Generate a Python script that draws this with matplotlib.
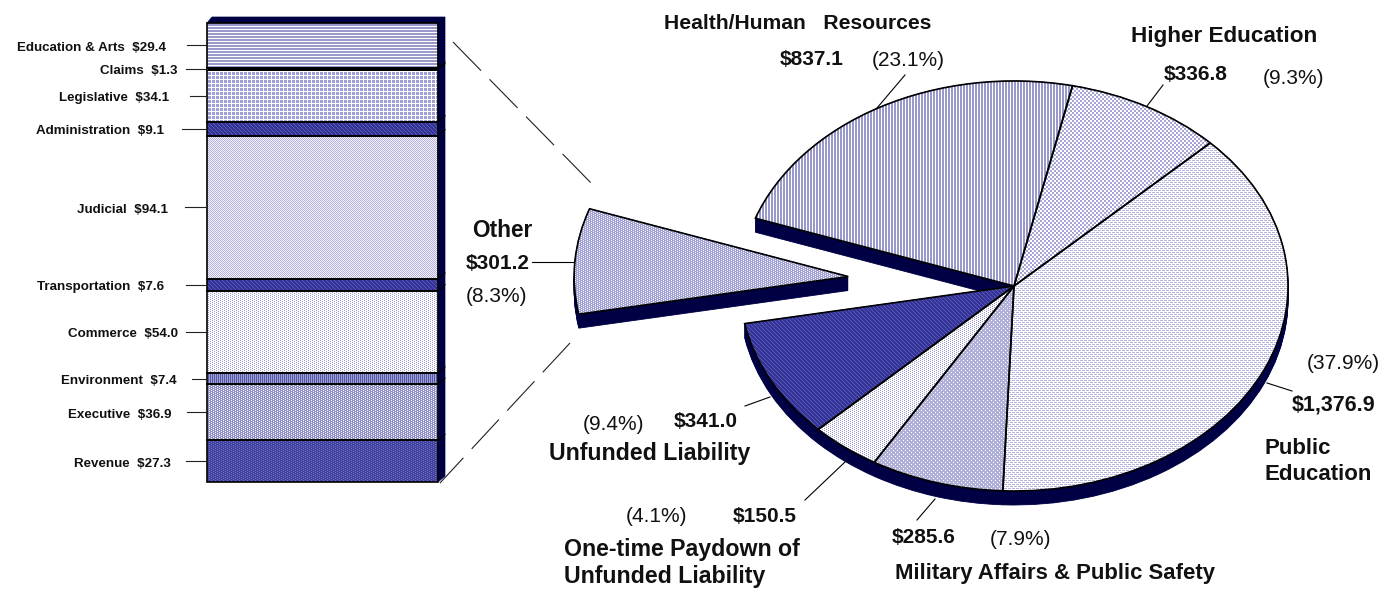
import numpy as np
import matplotlib
matplotlib.use("Agg")
import matplotlib.pyplot as plt
from matplotlib.colors import to_rgb
from matplotlib.patches import Polygon

plt.rcParams['font.family'] = ['Liberation Sans', 'DejaVu Sans']

W, H = 1383, 589

# main pie, clockwise from the Health slice ($ millions)
pie_names = ["Health/Human Resources", "Higher Education", "Public Education",
             "Military Affairs & Public Safety", "One-time Paydown of Unfunded Liability",
             "Unfunded Liability", "Other"]
pie_values = [837.1, 336.8, 1376.9, 285.6, 150.5, 341.0, 301.2]

# breakdown of Other, top to bottom
bar_names = ["Education & Arts", "Claims", "Legislative", "Administration", "Judicial",
             "Transportation", "Commerce", "Environment", "Executive", "Revenue"]
bar_values = [29.4, 1.3, 34.1, 9.1, 94.1, 7.6, 54.0, 7.4, 36.9, 27.3]
bar_texts = ["$29.4", "$1.3", "$34.1", "$9.1", "$94.1", "$7.6", "$54.0", "$7.4", "$36.9", "$27.3"]

NAVY = "#000044"
MID = "#9999CC"
DARK = "#333399"

# dither tiles: 1 = foreground colour, 0 = background colour
VLINES = (["110"], MID, "white")
HLINES = (["1", "1", "0"], MID, "white")
CHECK = (["1100", "1100", "0011", "0011"], "#A6A6D6", "white")
DENSE = (["1110", "1011"], "#A0A0D4", "white")
SPARSE = (["1110", "0000", "1011", "0000"], "#B4B4DC", "white")
SOFT = (["1110", "1111", "1011", "1111"], "#B0B0D8", "white")
PALE = (["1010", "0101"], "#B0B0DA", "#F4F4FA")
LIGHT = (["1000", "0010"], MID, "white")
GRID = (["1110", "1110", "1110", "0000"], "#A0A0D4", "white")
BLUE = (["1101", "1110", "0111", "1011"], DARK, "#5A5AB0")
DOTS = (["1110", "1011"], "#4040A0", "#7070B8")
EXEC = (["1110", "1011"], "#9090C8", "white")
STRIPE = (["10"], "#5555AA", "#A0A0D0")
PLAIN = (["1"], DARK, DARK)

pie_tiles = [VLINES, CHECK, SPARSE, SOFT, LIGHT, BLUE, DENSE]
bar_tiles = [HLINES, PLAIN, GRID, BLUE, PALE, BLUE, LIGHT, STRIPE, EXEC, DOTS]


# one image pixel per figure pixel; clip by path, a Rectangle clip would crop and resample it
def texture(ax, patch, tile):
    rows, fg, bg = tile
    mask = np.array([[c == "1" for c in r] for r in rows])
    mask = np.tile(mask, (H // mask.shape[0] + 1, W // mask.shape[1] + 1))[:H, :W]
    img = np.where(mask[..., None], to_rgb(fg), to_rgb(bg))
    im = ax.imshow(img, extent=(*xlim, *ylim), aspect="auto", interpolation="nearest", zorder=0)
    im.set_clip_path(patch.get_path(), patch.get_transform())


fig = plt.figure(figsize=(W / 100, H / 100), dpi=100)

# pie axes: one data unit is one radius, so the pie comes out as a tilted ellipse
cx, cy, rx, ry = 1014, 286, 274, 205
xlim = (-cx / rx, (W - cx) / rx)
ylim = ((cy - H) / ry, cy / ry)
ax = fig.add_axes([0, 0, 1, 1])
explode = [0, 0, 0, 0, 0, 0, 0.607]
start = 160.7

for off in np.arange(14, -0.5, -1):
    ax.pie(pie_values, explode=explode, startangle=start, counterclock=False,
           center=(0, -off / ry), colors=[NAVY] * len(pie_values),
           wedgeprops={"linewidth": 0.6, "edgecolor": NAVY, "zorder": -1})
wedges, _ = ax.pie(pie_values, explode=explode, startangle=start, counterclock=False,
                   colors=["none"] * len(pie_values),
                   wedgeprops={"linewidth": 1.2, "edgecolor": "black", "zorder": 1})
ax.set_aspect("auto")
ax.set_xlim(xlim)
ax.set_ylim(ylim)
for wedge, tile in zip(wedges, pie_tiles):
    texture(ax, wedge, tile)

# stacked bar
bx0, bx1, by0, by1 = 207, 438, 23, 482
bar_w = bx1 - bx0
bar_h = by1 - by0
bar_ax = fig.add_axes([bx0 / W, (H - by1) / H, bar_w / W, bar_h / H], facecolor="none")
total = sum(bar_values)
bottoms = total - np.cumsum(bar_values)
bars = bar_ax.bar(0.5, bar_values, width=1, bottom=bottoms, facecolor="none",
                  edgecolor="black", linewidth=1.2, clip_on=False, zorder=2)
bar_ax.set_xlim(0, 1)
bar_ax.set_ylim(0, total)
bar_ax.set_axis_off()
for rect, tile in zip(bars, bar_tiles):
    texture(ax, rect, tile)

ax.set_xlim(xlim)
ax.set_ylim(ylim)
ax.set_axis_off()

# 3d edge of the bar, in axes fractions
dx = 7 / bar_w
dy = 6 / bar_h
bar_ax.add_patch(Polygon([(0, 1), (5 / bar_w, 1 + dy), (1 + dx, 1 + dy), (1 + dx, dy),
                          (1, 0), (1, 1)], closed=True, transform=bar_ax.transAxes,
                         facecolor=NAVY, edgecolor=NAVY, linewidth=0.5, clip_on=False))
for bottom in bottoms[:-1]:
    bar_ax.plot([1, 1 + dx], [bottom, bottom + dy * total], color="black", lw=0.8, clip_on=False)

tick_left = [187, 186, 190, 182, 185, 186, 186, 192, 187, 186]
label_right = [166, 178, 169, 164, 168, 164, 178, 177, 171, 171]
for name, text, bottom, val, tl, lr in zip(bar_names, bar_texts, bottoms, bar_values, tick_left, label_right):
    mid = bottom + val / 2
    bar_ax.plot([(tl - bx0) / bar_w, 0], [mid, mid], color="#222222", lw=0.8, clip_on=False)
    bar_ax.text((lr - bx0) / bar_w, mid - 2.5 / bar_h * total, f"{name}  {text}", ha="right", va="center",
                fontsize=9.6, fontweight="bold", color="#111111", clip_on=False)

# overlay in pixels for the labels and leader lines
px = fig.add_axes([0, 0, 1, 1], facecolor="none")
px.set_xlim(0, W)
px.set_ylim(H, 0)
px.set_axis_off()

leaders = [((877, 108), (905, 75)), ((1147, 106), (1163, 85)), ((1267, 383), (1292, 391)),
           ((935, 499), (917, 520)), ((845, 462), (805, 500)), ((770, 397), (745, 406)),
           ((532, 262), (574, 262))]
for a, b in leaders:
    px.plot([a[0], b[0]], [a[1], b[1]], color="black", lw=0.8)

# zoom lines from the bar to the Other slice
px.plot([453, 593], [42, 185], color="#222222", lw=0.8, ls=(0, (36, 11)))
px.plot([570, 440], [343, 483], color="#222222", lw=0.8, ls=(0, (36, 11)))

labels = [
    ("Health/Human   Resources", 664, 22, True, 15.2), ("$837.1", 780, 58, True, 15), ("(23.1%)", 872, 59, False, 15),
    ("Higher Education", 1131, 35, True, 16.2), ("$336.8", 1164, 73, True, 15), ("(9.3%)", 1263, 77, False, 15),
    ("(37.9%)", 1307, 362, False, 15), ("$1,376.9", 1292, 404, True, 15.5),
    ("Public", 1264, 447, True, 16), ("Education", 1264, 473, True, 16),
    ("$285.6", 892, 536, True, 15), ("(7.9%)", 990, 538, False, 15),
    ("Military Affairs & Public Safety", 895, 572, True, 15.9),
    ("(4.1%)", 626, 515, False, 15), ("$150.5", 733, 515, True, 15),
    ("One-time Paydown of", 564, 548, True, 16.7), ("Unfunded Liability", 564, 575, True, 16.7),
    ("(9.4%)", 583, 423, False, 15), ("$341.0", 674, 420, True, 15), ("Unfunded Liability", 549, 452, True, 16.7),
    ("Other", 472, 229, True, 16.3), ("$301.2", 466, 262, True, 15), ("(8.3%)", 466, 295, False, 15),
]
for text, x, y, bold, size in labels:
    px.text(x, y + 1.5, text, ha="left", va="center", fontsize=size,
            fontweight="bold" if bold else "normal", color="#111111")

fig.savefig("out.png", dpi=100)
